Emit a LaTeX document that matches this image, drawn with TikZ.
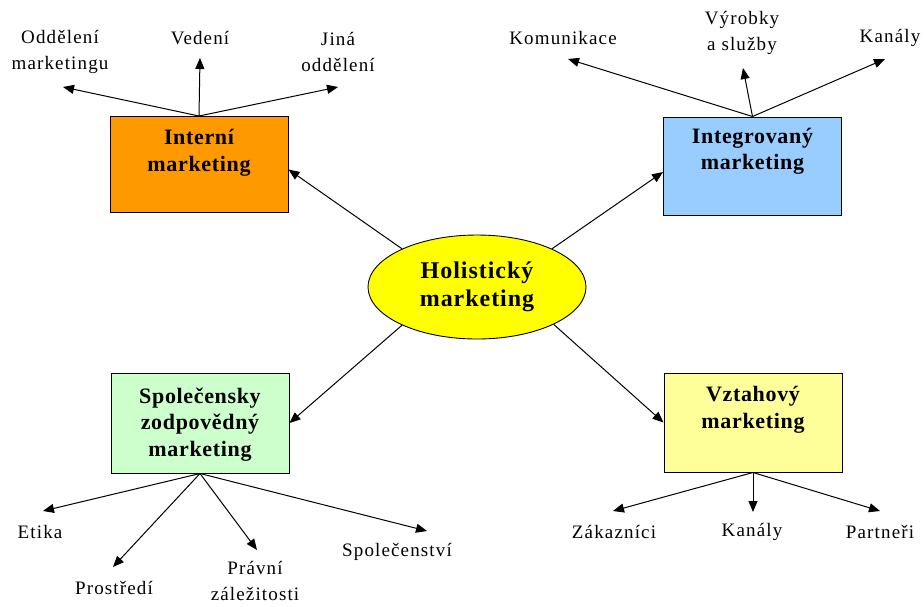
\documentclass[tikz,border=0pt]{standalone}
\usepackage{fontspec}
\setmainfont{Liberation Serif}
\newfontfamily\lblfont[LetterSpace=6]{Liberation Serif}
\newfontfamily\boxfont[LetterSpace=3]{Liberation Serif Bold}
\newfontfamily\holfont[LetterSpace=4]{Liberation Serif Bold}
\usetikzlibrary{arrows.meta,shapes.geometric}
\definecolor{cint}{HTML}{FF9900}
\definecolor{cintg}{HTML}{99CCFF}
\definecolor{cspol}{HTML}{CCFFCC}
\definecolor{cvzt}{HTML}{FFFF99}
\definecolor{chol}{HTML}{FFFF00}
\begin{document}
\begin{tikzpicture}[x=1pt,y=-1pt,
  box/.style={draw=black,line width=1pt,minimum width=178pt,minimum height=96pt,inner sep=0pt},
  boxtext/.style={align=center,font=\boxfont\fontsize{22}{26.5}\selectfont,inner sep=0pt},
  lbl/.style={align=center,font=\lblfont\fontsize{19}{26}\selectfont,inner sep=0pt},
  conn/.style={line width=1pt,-{Triangle[length=11pt,width=9pt]}}]
\useasboundingbox (0,0) rectangle (924,606);
% central ellipse
\node[ellipse,draw=black,line width=0.9pt,fill=chol,minimum width=218pt,minimum height=104pt,inner sep=0pt,
  align=center,font=\holfont\fontsize{24}{28}\selectfont] (hol) at (477,287) {Holistický\\marketing};
% boxes
\node[box,fill=cint] (int) at (199,164.5) {};
\node[boxtext] (intt) at (199,153) {Interní\\marketing};
\node[box,fill=cintg,minimum height=98pt] (intg) at (752.5,166) {};
\node[boxtext] (intgt) at (752.5,151.5) {Integrovaný\\marketing};
\node[box,fill=cspol,minimum height=100pt] (spol) at (200,423) {};
\node[boxtext] (spolt) at (200,424.5) {Společensky\\zodpovědný\\marketing};
\node[box,fill=cvzt,minimum height=99pt] (vzt) at (753,422.5) {};
\node[boxtext] (vztt) at (753,410) {Vztahový\\marketing};
% connectors from centre
\draw[conn] (hol.153) -- ([yshift=-5pt]int.east);
\draw[conn] (hol.27) -- ([yshift=-6pt]intg.west);
\draw[conn] (hol.207) -- (spol.east);
\draw[conn] (hol.334) -- (vzt.west);
% labels
\node[lbl] (l1) at (60,51.5) {Oddělení\\marketingu};
\node[lbl] (l2) at (200,38) {Vedení};
\node[lbl] (l3) at (338,51.5) {Jiná\\oddělení};
\node[lbl] (l4) at (563,38) {Komunikace};
\node[lbl] (l5) at (742,33) {Výrobky\\a služby};
\node[lbl] (l6) at (890,38) {Kanály};
\node[lbl] (l7) at (40,532) {Etika};
\node[lbl] (l8) at (114,588) {Prostředí};
\node[lbl] (l9) at (255,581) {Právní\\záležitosti};
\node[lbl] (l10) at (397,552) {Společenství};
\node[lbl] (l11) at (614,532) {Zákazníci};
\node[lbl] (l12) at (752,532) {Kanály};
\node[lbl] (l13) at (880,532) {Partneři};
% arrow end points
\coordinate (e1) at (63,87);
\coordinate (e2) at (200,58);
\coordinate (e3) at (338,87);
\coordinate (e4) at (568,59);
\coordinate (e5) at (743,68);
\coordinate (e6) at (885,59);
\coordinate (e7) at (43,511);
\coordinate (e8) at (113,567);
\coordinate (e9) at (257,550);
\coordinate (e10) at (427,531);
\coordinate (e11) at (613,511);
\coordinate (e12) at (753,512);
\coordinate (e13) at (880,511);
% connectors from boxes
\draw[conn] (int.north) -- (e1);
\draw[conn] (int.north) -- (e2);
\draw[conn] (int.north) -- (e3);
\draw[conn] (intg.north) -- (e4);
\draw[conn] (intg.north) -- (e5);
\draw[conn] (intg.north) -- (e6);
\draw[conn] (spol.south) -- (e7);
\draw[conn] (spol.south) -- (e8);
\draw[conn] (spol.south) -- (e9);
\draw[conn] (spol.south) -- (e10);
\draw[conn] (vzt.south) -- (e11);
\draw[conn] (vzt.south) -- (e12);
\draw[conn] (vzt.south) -- (e13);
\end{tikzpicture}
\end{document}
